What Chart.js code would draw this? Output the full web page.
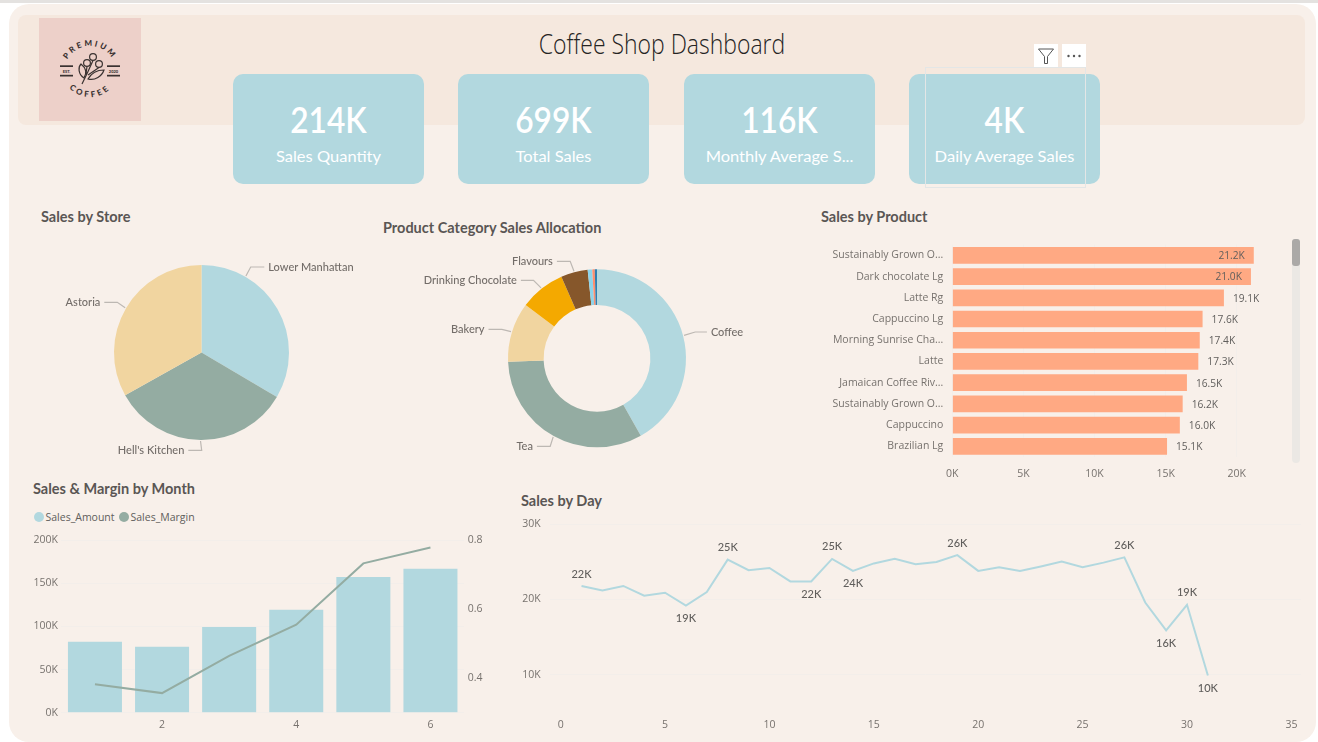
<!DOCTYPE html>
<html>
<head>
<meta charset="utf-8">
<title>Coffee Shop Dashboard</title>
<script src="https://cdn.jsdelivr.net/npm/chart.js@4"></script>
<style>
html, body { margin: 0; padding: 0; width: 1318px; height: 742px; overflow: hidden; background: #fff; font-family: Lato, sans-serif; }
.abs { position: absolute; }
#topline { left: 0; top: 0; width: 1318px; height: 3px; background: #e4e2e0; }
#panel { left: 9px; top: 4px; width: 1307px; height: 738px; background: #f8f0ea; border-radius: 20px; }
#band { left: 18px; top: 15px; width: 1287px; height: 110px; background: #f5e8de; border-radius: 8px; }
#logo { left: 39px; top: 18px; width: 102px; height: 103px; background: #edd0c9; }
#title { left: 462px; top: 25px; width: 400px; text-align: center; font: 300 27px/38px "Open Sans", sans-serif; color: #252423; transform: scaleX(.85); white-space: nowrap; }
.card { width: 191px; height: 110px; top: 74px; background: #b2d8df; border-radius: 10px; color: #fff; text-align: center; }
.card .num { position: absolute; left: 0; right: 0; top: 24px; font: 600 36px/42px Lato, sans-serif; transform: scaleX(.88); }
.card .lbl { position: absolute; left: 0; right: 0; top: 71px; font: 400 16px/22px Lato, sans-serif; white-space: nowrap; transform: scaleX(1.03); }
.ctitle { font: 700 14.5px/18px Lato, sans-serif; color: #5a5654; white-space: nowrap; }
#sel { left: 925px; top: 67px; width: 161px; height: 121px; border: 1px solid #e3e6e6; box-sizing: border-box; }
.tool { top: 44px; width: 24px; height: 23px; background: #fff; }
#track { left: 1292px; top: 239px; width: 8px; height: 224px; background: #ebe8e4; border-radius: 4px; }
#thumb { left: 1292px; top: 239px; width: 8px; height: 27px; background: #aba9a7; border-radius: 3px; }
#legend { left: 34px; top: 510px; height: 14px; font: 400 10.5px/14px "Open Sans", sans-serif; color: #605e5c; white-space: nowrap; }
#legend span.item { position: absolute; top: 0; }
#legend i { position: absolute; left: 0; top: 2px; width: 10px; height: 10px; border-radius: 50%; }
#legend b { position: absolute; left: 11.5px; top: 0; font-weight: 400; }
canvas { position: absolute; }
</style>
</head>
<body>
<div class="abs" id="topline"></div>
<div class="abs" id="panel"></div>
<div class="abs" id="band"></div>

<div class="abs" id="logo">
<svg width="102" height="103" viewBox="39 18 102 103">
  <defs>
    <path id="arcTop" d="M64 72 A26 26 0 0 1 116 72"/>
    <path id="arcBot" d="M61 68 A29 29 0 0 0 119 68"/>
  </defs>
  <g fill="#3a3231" font-family="Lato, sans-serif" font-weight="900">
    <text font-size="8" letter-spacing="2.4" text-anchor="middle"><textPath href="#arcTop" startOffset="50%">PREMIUM</textPath></text>
    <text font-size="8" letter-spacing="2.8" text-anchor="middle"><textPath href="#arcBot" startOffset="50%">COFFEE</textPath></text>
    <text x="66.5" y="72.5" font-size="4" text-anchor="middle">EST.</text>
    <text x="113.5" y="72.5" font-size="4" text-anchor="middle">2020</text>
    <rect x="60" y="65.3" width="13" height="1.7"/><rect x="60" y="74.8" width="13" height="1.7"/>
    <rect x="107" y="65.3" width="13" height="1.7"/><rect x="107" y="74.8" width="13" height="1.7"/>
  </g>
  <g fill="none" stroke="#3a3231" stroke-width="1.2">
    <circle cx="93" cy="57" r="3.4"/><circle cx="87" cy="63" r="3.4"/><circle cx="99" cy="64" r="3.4"/>
    <path d="M82 84 C85 78 88 72 93 60.5 M87 66.5 L86 74 M99 67.5 L88 75"/>
    <path d="M84 78 C78 74 78 67 81 64 C86 68 87 73 84 78 Z"/>
    <path d="M88 79 C92 72 98 70 104 70 C102 76 95 81 88 79 Z"/>
  </g>
</svg>
</div>

<div class="abs" id="title">Coffee Shop Dashboard</div>

<div class="abs card" style="left:233px"><div class="num" id="k0"></div><div class="lbl" id="l0"></div></div>
<div class="abs card" style="left:458px"><div class="num" id="k1"></div><div class="lbl" id="l1"></div></div>
<div class="abs card" style="left:684px"><div class="num" id="k2"></div><div class="lbl" id="l2"></div></div>
<div class="abs card" style="left:909px"><div class="num" id="k3"></div><div class="lbl" id="l3"></div></div>

<div class="abs" id="sel"></div>
<div class="abs tool" style="left:1034px">
  <svg width="24" height="23"><path d="M4.5 5 H19.5 L13.5 12.5 V19.5 H10.5 V12.5 Z" fill="none" stroke="#555" stroke-width="1"/></svg>
</div>
<div class="abs tool" style="left:1062px">
  <svg width="24" height="23"><g fill="#555"><circle cx="6.5" cy="12" r="1.2"/><circle cx="12" cy="12" r="1.2"/><circle cx="17.5" cy="12" r="1.2"/></g></svg>
</div>

<div class="abs ctitle" style="left:41px;top:208px">Sales by Store</div>
<div class="abs ctitle" style="left:383px;top:219px">Product Category Sales Allocation</div>
<div class="abs ctitle" style="left:821px;top:208px">Sales by Product</div>
<div class="abs ctitle" style="left:33px;top:480px">Sales &amp; Margin by Month</div>
<div class="abs ctitle" style="left:521px;top:492px">Sales by Day</div>

<canvas id="storePie" style="left:30px;top:250px"></canvas>
<canvas id="categoryDonut" style="left:400px;top:245px"></canvas>
<canvas id="productBars" style="left:820px;top:225px"></canvas>
<div class="abs" id="track"></div>
<div class="abs" id="thumb"></div>
<div class="abs" id="legend"></div>
<canvas id="monthCombo" style="left:20px;top:520px"></canvas>
<canvas id="dayLine" style="left:510px;top:500px"></canvas>

<script>
// --- data ---
const kpiValues = ['214K', '699K', '116K', '4K'];
const kpiLabels = ['Sales Quantity', 'Total Sales', 'Monthly Average S...', 'Daily Average Sales'];

const storeNames = ['Lower Manhattan', "Hell's Kitchen", 'Astoria'];
const storeSales = [234000, 233500, 231500];

const categoryNames = ['Coffee', 'Tea', 'Bakery', 'Drinking Chocolate', 'Flavours', 'Other 1', 'Other 2', 'Other 3'];
const categorySales = [291500, 227000, 75500, 57500, 34000, 5800, 3100, 2800];

const productNames = ['Sustainably Grown O...', 'Dark chocolate Lg', 'Latte Rg', 'Cappuccino Lg', 'Morning Sunrise Cha...',
    'Latte', 'Jamaican Coffee Riv...', 'Sustainably Grown O...', 'Cappuccino', 'Brazilian Lg'];
const productSales = [21200, 21000, 19100, 17600, 17400, 17300, 16500, 16200, 16000, 15100];
const productTicks = [0, 5000, 10000, 15000, 20000];

const months = [1, 2, 3, 4, 5, 6];
const monthSales = [82200, 76400, 99200, 119300, 157200, 166800];
const monthMargin = [0.381, 0.355, 0.463, 0.554, 0.732, 0.778];
const salesTicks = [0, 50000, 100000, 150000, 200000];
const marginTicks = [0.4, 0.6, 0.8];

const days = [1, 2, 3, 4, 5, 6, 7, 8, 9, 10, 11, 12, 13, 14, 15, 16, 17, 18, 19, 20, 21, 22, 23, 24, 25, 26, 27, 28, 29, 30, 31];
const daySales = [21800, 21200, 21800, 20500, 20900, 19200, 21000, 25300, 23900, 24200, 22400, 22400, 25400, 23800, 24800, 25400,
    24700, 25000, 25900, 23800, 24300, 23800, 24400, 25050, 24300, 24900, 25600, 19600, 15900, 19300, 9900];
const dayLabelsAbove = [1, 8, 13, 19, 27, 30];
const dayLabelsBelow = [6, 12, 14, 29, 31];
const dayTicks = [0, 5, 10, 15, 20, 25, 30, 35];
const daySalesTicks = [10000, 20000, 30000];

// --- colours & fonts ---
const BLUE = '#b2d8df', SAGE = '#94aca2', WHEAT = '#f1d5a0', PEACH = '#ffa983';
const TICK = '#77726e', LABEL = '#605e5c', GRID = '#f3eeea';
const tickFont = { family: 'Open Sans', size: 10.5 };

Chart.defaults.animation = false;
Chart.defaults.responsive = false;
Chart.defaults.plugins.legend.display = false;
Chart.defaults.plugins.tooltip.enabled = false;

kpiValues.forEach((v, i) => {
    document.getElementById('k' + i).textContent = v;
    document.getElementById('l' + i).textContent = kpiLabels[i];
});

function kLabel(v) { return Math.round(v / 1000) + 'K'; }

function sizeCanvas(id, w, h) {
    const c = document.getElementById(id);
    c.width = w;
    c.height = h;
    return c;
}

// stepSize gets rescaled when the range isn't a whole number of steps, so set the ticks directly
function setTicks(values) {
    return scale => { scale.ticks = values.map(v => ({ value: v })); };
}

// Elbow leader lines for the pie and the donut, started from each arc's own angle
const leaderPlugin = {
    id: 'leaders',
    afterDatasetsDraw(chart, args, opts) {
        if (!opts.items) return;
        const ctx = chart.ctx;
        const arcs = chart.getDatasetMeta(0).data;
        ctx.save();
        ctx.font = '500 11px Lato';
        ctx.textBaseline = 'middle';
        opts.items.forEach(it => {
            const arc = arcs[it.i];
            const a = arc.startAngle + (arc.endAngle - arc.startAngle) * it.pos;
            const sx = arc.x + Math.cos(a) * (arc.outerRadius + 1);
            const sy = arc.y + Math.sin(a) * (arc.outerRadius + 1);
            const ex = arc.x + it.elbow[0], ey = arc.y + it.elbow[1];
            const side = it.run > 0 ? 1 : -1;
            ctx.strokeStyle = '#bdb8b3';
            ctx.lineWidth = 1.2;
            ctx.beginPath();
            ctx.moveTo(sx, sy);
            ctx.lineTo(ex, ey);
            ctx.lineTo(ex + it.run, ey);
            ctx.stroke();
            ctx.fillStyle = '#736d69';
            ctx.textAlign = side > 0 ? 'left' : 'right';
            ctx.fillText(chart.data.labels[it.i], ex + it.run + side * 4, ey);
        });
        ctx.restore();
    }
};

// Sales by Store
sizeCanvas('storePie', 343, 205);
new Chart('storePie', {
    type: 'pie',
    data: { labels: storeNames, datasets: [{ data: storeSales, backgroundColor: [BLUE, SAGE, WHEAT], borderWidth: 0 }] },
    options: {
        layout: { padding: { left: 84, right: 84, top: 15, bottom: 15 } },
        plugins: {
            leaders: {
                items: [
                    { i: 0, pos: 0.25, elbow: [49.2, -85.5], run: 13.6 },
                    { i: 1, pos: 0.5, elbow: [0.2, 97.8], run: -13.4 },
                    { i: 2, pos: 0.5, elbow: [-84.2, -50.2], run: -13 }
                ]
            }
        }
    },
    plugins: [leaderPlugin]
});

// Product Category Sales Allocation
sizeCanvas('categoryDonut', 394, 227);
new Chart('categoryDonut', {
    type: 'doughnut',
    data: {
        labels: categoryNames,
        datasets: [{
            data: categorySales,
            backgroundColor: [BLUE, SAGE, WHEAT, '#f4a900', '#86572b', '#8ed4ea', '#ff8e6e', '#2f7fb0'],
            borderWidth: 0
        }]
    },
    options: {
        cutout: '60%',
        layout: { padding: { left: 108, right: 108, top: 24.3, bottom: 24.7 } },
        plugins: {
            leaders: {
                items: [
                    { i: 0, pos: 0.5, elbow: [98.2, -26.3], run: 11.7 },
                    { i: 1, pos: 0.5, elbow: [-46.8, 88], run: -13.3 },
                    { i: 2, pos: 0.5, elbow: [-95.1, -29], run: -13.4 },
                    { i: 3, pos: 0.5, elbow: [-63.5, -78], run: -12.6 },
                    { i: 4, pos: 0.5, elbow: [-26.8, -97], run: -13.3 }
                ]
            }
        }
    },
    plugins: [leaderPlugin]
});

// Sales by Product
const barValuePlugin = {
    id: 'barValues',
    afterDatasetsDraw(chart) {
        const ctx = chart.ctx;
        ctx.save();
        ctx.font = '10.2px "Open Sans"';
        ctx.fillStyle = LABEL;
        ctx.textBaseline = 'middle';
        chart.getDatasetMeta(0).data.forEach((bar, i) => {
            const v = productSales[i];
            const txt = (v / 1000).toFixed(1) + 'K';
            if (v >= 20000) {
                ctx.textAlign = 'right';
                ctx.fillText(txt, bar.x - 9, bar.y + 1);
            } else {
                ctx.textAlign = 'left';
                ctx.fillText(txt, bar.x + 9, bar.y + 1);
            }
        });
        ctx.restore();
    }
};
sizeCanvas('productBars', 480, 257);
new Chart('productBars', {
    type: 'bar',
    data: { labels: productNames, datasets: [{ data: productSales, backgroundColor: PEACH, barPercentage: 0.787, categoryPercentage: 1 }] },
    options: {
        indexAxis: 'y',
        layout: { padding: { top: 19.7, right: 6.4, bottom: 0 } },
        scales: {
            x: {
                min: 0, max: 24000,
                afterBuildTicks: setTicks(productTicks),
                afterFit(s) { s.height = 25; },
                grid: { color: GRID, drawTicks: false },
                border: { display: false },
                ticks: { maxRotation: 0, padding: 11, color: TICK, font: tickFont, callback: kLabel }
            },
            y: {
                afterFit(s) { s.width = 132.3; },
                grid: { display: false, drawTicks: false },
                border: { display: false },
                ticks: { autoSkip: false, padding: 9, color: TICK, font: tickFont }
            }
        }
    },
    plugins: [barValuePlugin]
});

// Sales & Margin by Month
sizeCanvas('monthCombo', 480, 220);
const combo = new Chart('monthCombo', {
    data: {
        labels: months,
        datasets: [
            { type: 'line', label: 'Sales_Margin', data: monthMargin, yAxisID: 'y1', borderColor: SAGE, backgroundColor: SAGE, borderWidth: 2, pointRadius: 0, tension: 0, order: 0 },
            { type: 'bar', label: 'Sales_Amount', data: monthSales, yAxisID: 'y', backgroundColor: BLUE, barPercentage: 0.805, categoryPercentage: 1, order: 1 }
        ]
    },
    options: {
        layout: { padding: { top: 20, right: 0, bottom: 0 } },
        scales: {
            x: {
                afterFit(s) { s.height = 27.3; },
                grid: { display: false, drawTicks: false },
                border: { display: false },
                ticks: { autoSkip: false, maxRotation: 0, padding: 6.5, color: TICK, font: tickFont, callback(v, i) { return months[i] % 2 === 0 ? months[i] : ''; } }
            },
            y: {
                min: 0, max: 200000,
                afterBuildTicks: setTicks(salesTicks),
                afterFit(s) { s.width = 41.4; },
                grid: { color: GRID, drawTicks: false },
                border: { display: false },
                ticks: { padding: 3.4, color: TICK, font: tickFont, callback: kLabel }
            },
            y1: {
                position: 'right',
                min: 0.298, max: 0.8,
                afterBuildTicks: setTicks(marginTicks),
                afterFit(s) { s.width = 36; },
                grid: { display: false, drawTicks: false },
                border: { display: false },
                ticks: { padding: 3.7, color: TICK, font: tickFont, callback(v) { return v.toFixed(1); } }
            }
        }
    }
});

// legend in the page, filled from the chart's own datasets
const legendEl = document.getElementById('legend');
const legendOffsets = { Sales_Amount: 0, Sales_Margin: 85 };
['Sales_Amount', 'Sales_Margin'].forEach(name => {
    const ds = combo.data.datasets.find(d => d.label === name);
    const item = document.createElement('span');
    item.className = 'item';
    item.style.left = legendOffsets[name] + 'px';
    item.innerHTML = '<i style="background:' + (ds.type === 'line' ? ds.borderColor : ds.backgroundColor) + '"></i><b>' + name + '</b>';
    legendEl.appendChild(item);
});

// Sales by Day
const dayLabelPlugin = {
    id: 'dayLabels',
    afterDatasetsDraw(chart) {
        const ctx = chart.ctx;
        const pts = chart.getDatasetMeta(0).data;
        ctx.save();
        ctx.font = '500 11px Lato';
        ctx.fillStyle = LABEL;
        ctx.textAlign = 'center';
        ctx.textBaseline = 'middle';
        dayLabelsAbove.forEach(d => ctx.fillText(kLabel(daySales[d - 1]), pts[d - 1].x, pts[d - 1].y - 12));
        dayLabelsBelow.forEach(d => ctx.fillText(kLabel(daySales[d - 1]), pts[d - 1].x, pts[d - 1].y + 13));
        ctx.restore();
    }
};
sizeCanvas('dayLine', 800, 240);
new Chart('dayLine', {
    type: 'line',
    data: {
        datasets: [{ data: days.map((d, i) => ({ x: d, y: daySales[i] })), borderColor: BLUE, borderWidth: 2, pointRadius: 0, tension: 0 }]
    },
    options: {
        layout: { padding: { top: 24.3, right: 9, bottom: 0.3 } },
        scales: {
            x: {
                type: 'linear',
                min: -0.52, max: 35.46,
                afterBuildTicks: setTicks(dayTicks),
                afterFit(s) { s.height = 25; },
                grid: { display: false, drawTicks: false },
                border: { display: false },
                ticks: { maxRotation: 0, padding: 3.6, color: TICK, font: tickFont }
            },
            y: {
                min: 4680, max: 30000,
                afterBuildTicks: setTicks(daySalesTicks),
                afterFit(s) { s.width = 39.8; },
                grid: { color: GRID, drawTicks: false },
                border: { display: false },
                ticks: { padding: 9, color: TICK, font: tickFont, callback: kLabel }
            }
        }
    },
    plugins: [dayLabelPlugin]
});
</script>
</body>
</html>
